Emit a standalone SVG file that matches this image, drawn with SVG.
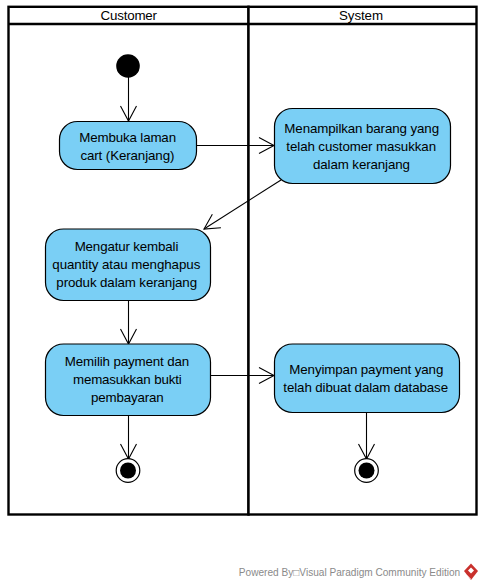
<svg xmlns="http://www.w3.org/2000/svg" width="482" height="588" viewBox="0 0 482 588">
<style>
text{font-family:"Liberation Sans",Arial,sans-serif;font-size:13.33px;fill:#000;text-anchor:middle}
.lane{fill:#fff;stroke:#000;stroke-width:2.4}
.act{fill:#7acff5;stroke:#000;stroke-width:1.2}
.edge{fill:none;stroke:#000;stroke-width:1.1}
.fin{fill:#fff;stroke:#000;stroke-width:1.2}
</style>
<defs>
<marker id="arr" markerUnits="userSpaceOnUse" markerWidth="20" markerHeight="20" refX="16" refY="10" orient="auto">
<path d="M1 2L16 10L1 18" fill="none" stroke="#000" stroke-width="1.1"/>
</marker>
</defs>
<rect width="482" height="588" fill="#fff"/>
<g id="lane-customer">
<rect class="lane" x="8.500" y="6.800" width="240" height="507.700"/>
<line class="lane" x1="8.500" y1="24" x2="248.500" y2="24"/>
<text x="128.800" y="20" textLength="56.500">Customer</text>
</g>
<g id="lane-system">
<rect class="lane" x="248.500" y="6.800" width="228" height="507.700"/>
<line class="lane" x1="248.500" y1="24" x2="476.500" y2="24"/>
<text x="361" y="20" textLength="44">System</text>
</g>
<g id="connectors">
<path class="edge" marker-end="url(#arr)" d="M128.500 77V121"/>
<path class="edge" marker-end="url(#arr)" d="M197 145.500H274"/>
<path class="edge" marker-end="url(#arr)" d="M281 180L204 229"/>
<path class="edge" marker-end="url(#arr)" d="M128.500 301V344"/>
<path class="edge" marker-end="url(#arr)" d="M211 375.500H274"/>
<path class="edge" marker-end="url(#arr)" d="M128.500 415V459"/>
<path class="edge" marker-end="url(#arr)" d="M366.500 412V459"/>
</g>
<g id="start"><circle cx="128" cy="66" r="11.800" fill="#000"/></g>
<g id="a1">
<rect class="act" x="59.500" y="121.500" width="137" height="48" rx="18"/>
<text x="127.700" y="142" textLength="96.700">Membuka laman</text>
<text x="127.400" y="160" textLength="94">cart (Keranjang)</text>
</g>
<g id="a2">
<rect class="act" x="274.500" y="108.500" width="176" height="75" rx="18"/>
<text x="361.700" y="133" textLength="154.700">Menampilkan barang yang</text>
<text x="361.200" y="151" textLength="149.700">telah customer masukkan</text>
<text x="361.500" y="169" textLength="97">dalam keranjang</text>
</g>
<g id="a3">
<rect class="act" x="45.500" y="229" width="165" height="71.500" rx="18"/>
<text x="126.500" y="251" textLength="103.700">Mengatur kembali</text>
<text x="126.300" y="269" textLength="148">quantity atau menghapus</text>
<text x="126.700" y="287" textLength="140.700">produk dalam keranjang</text>
</g>
<g id="a4">
<rect class="act" x="45.500" y="344" width="165" height="71.500" rx="18"/>
<text x="127" y="366" textLength="124.300">Memilih payment dan</text>
<text x="127.300" y="384" textLength="108.700">memasukkan bukti</text>
<text x="127.300" y="402" textLength="72.700">pembayaran</text>
</g>
<g id="a5">
<rect class="act" x="274.500" y="344" width="185" height="68.500" rx="18"/>
<text x="366.300" y="374" textLength="154">Menyimpan payment yang</text>
<text x="365.700" y="392" textLength="164.700">telah dibuat dalam database</text>
</g>
<g id="end1"><circle class="fin" cx="128" cy="470.500" r="11.800"/><circle cx="128" cy="470.500" r="8" fill="#000"/></g>
<g id="end2"><circle class="fin" cx="366.500" cy="470.500" r="11.800"/><circle cx="366.500" cy="470.500" r="8" fill="#000"/></g>
<g id="watermark">
<text x="349.500" y="576" style="font-size:10.100px;fill:#8a8a8a">Powered By□Visual Paradigm Community Edition</text>
<path d="M471 563.500L478 571L471 580L464 571Z" fill="#c9302c"/>
<path d="M468 570.500L471 567.500L474 570.500L471 573.500Z" fill="#fff"/>
<path d="M466 574L471 579" stroke="#f0c0c0" stroke-width="0.700"/>
</g>
</svg>
